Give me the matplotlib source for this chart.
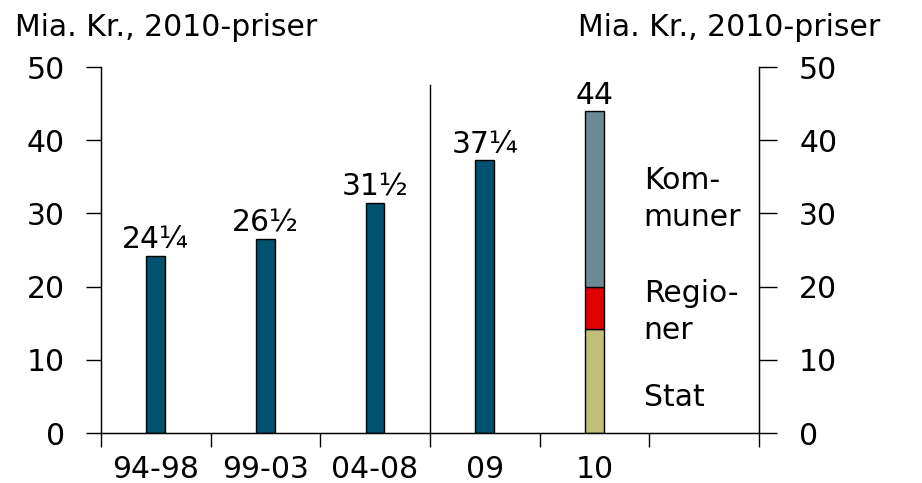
import numpy as np
import matplotlib
matplotlib.use("Agg")
from matplotlib import pyplot as plt

# data
periods = ["94-98", "99-03", "04-08", "09", "10"]
totals = [24.25, 26.5, 31.5, 37.25]
total_labels = ["24¼", "26½", "31½", "37¼", "44"]
stat_10 = 14.25
regioner_10 = 5.75
kommuner_10 = 24.0

dark = "#00526E"
c_stat = "#BFBF78"
c_reg = "#E00000"
c_kom = "#6C8A95"

plt.rcParams['font.family'] = ['DejaVu Sans']
fs = 21.5

fig = plt.figure(figsize=(9.22, 4.83), dpi=100)
ax = fig.add_axes([0.1095, 0.1035, 0.7135, 0.7575])

w = 0.17
x = np.arange(len(periods))
ax.bar(x[:4], totals, width=w, color=dark, edgecolor="black", linewidth=1)
ax.bar(x[4], stat_10, width=w, color=c_stat, edgecolor="black", linewidth=1)
ax.bar(x[4], regioner_10, bottom=stat_10, width=w, color=c_reg, edgecolor="black", linewidth=1)
ax.bar(x[4], kommuner_10, bottom=stat_10 + regioner_10, width=w, color=c_kom,
       edgecolor="black", linewidth=1)

tops = totals + [stat_10 + regioner_10 + kommuner_10]
for xi, t, lab in zip(x, tops, total_labels):
    ax.text(xi, t + 0.2, lab, ha="center", va="bottom", fontsize=fs)

# labels for the stacked bar
ax.text(4.45, 32, "Kom-\nmuner", ha="left", va="center", fontsize=fs, linespacing=1.35)
ax.text(4.45, 16.5, "Regio-\nner", ha="left", va="center", fontsize=fs, linespacing=1.35)
ax.text(4.45, 4.8, "Stat", ha="left", va="center", fontsize=fs)

# separator line
ax.plot([2.5, 2.5], [0, 47.5], color="black", linewidth=1)

ax.set_xlim(-0.5, 5.5)
ax.set_ylim(0, 50)
ax.set_xticks(np.arange(-0.5, 6, 1))
ax.set_xticklabels([])
ax.set_xticks(x, minor=True)
ax.set_xticklabels(periods, minor=True, fontsize=fs)
ax.tick_params(axis="x", which="major", direction="out", length=10, width=1)
ax.tick_params(axis="x", which="minor", length=0, pad=16)

ax.set_yticks(range(0, 51, 10))
ax.tick_params(axis="y", direction="out", length=11, width=1, pad=15, labelsize=fs)
ax.spines["top"].set_visible(False)
for s in ["left", "right", "bottom"]:
    ax.spines[s].set_linewidth(1)

ax2 = ax.twinx()
ax2.set_ylim(0, 50)
ax2.set_yticks(range(0, 51, 10))
ax2.tick_params(axis="y", direction="out", length=13, width=1, pad=16, labelsize=fs)
ax2.spines["top"].set_visible(False)

fig.text(15 / 922, 1 - 28 / 483, "Mia. Kr., 2010-priser", ha="left", va="center", fontsize=fs)
fig.text(578 / 922, 1 - 28 / 483, "Mia. Kr., 2010-priser", ha="left", va="center", fontsize=fs)

fig.savefig("out.png", dpi=100)
